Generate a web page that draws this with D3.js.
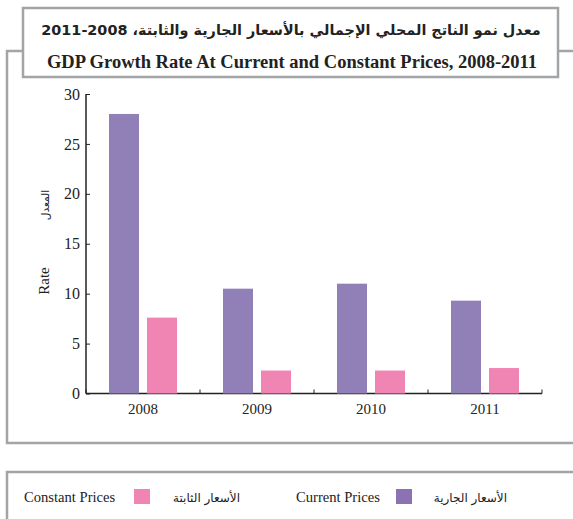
<!DOCTYPE html>
<meta charset="utf-8">
<style>
body { margin: 0; background: #fff; }
svg { display: block; }
.frame { fill: none; stroke: #a2a5a8; stroke-width: 2.5px; }
text { font-family: "Liberation Serif", "DejaVu Serif", serif; fill: #222; }
.ar { font-family: "DejaVu Sans", sans-serif; }
.axis path, .axis line { stroke: #222; }
.axis text { font-family: "Liberation Serif", serif; fill: #222; }
</style>
<svg width="573" height="519"></svg>
<script src="https://d3js.org/d3.v7.min.js"></script>
<script>

var years = ["2008", "2009", "2010", "2011"];
var currentPrices = [28.0, 10.5, 11.0, 9.3];
var constantPrices = [7.6, 2.3, 2.3, 2.55];
var yTicks = [0, 5, 10, 15, 20, 25, 30];

var purple = "#917fb7",
    pink = "#f085b4";

var svg = d3.select("svg");

// frames
svg.append("path").attr("class", "frame")
    .attr("d", "M23,51H7V443H573M558,51H573");
svg.append("path").attr("class", "frame")
    .attr("d", "M573,472H7V519");
svg.append("rect").attr("class", "frame")
    .attr("x", 23).attr("y", 8).attr("width", 535).attr("height", 69)
    .style("fill", "#fff");

svg.append("text")
    .attr("x", 291).attr("y", 35)
    .attr("text-anchor", "middle")
    .attr("direction", "rtl")
    .style("font-size", "14.4px").style("font-weight", "bold")
    .style("font-family", "'DejaVu Sans', sans-serif")
    .text("معدل نمو الناتج المحلي الإجمالي بالأسعار الجارية والثابتة، 2008-2011");

svg.append("text")
    .attr("x", 292).attr("y", 68)
    .attr("text-anchor", "middle")
    .style("font-size", "18.5px").style("font-weight", "bold")
    .text("GDP Growth Rate At Current and Constant Prices, 2008-2011");

// plot
var x = d3.scaleBand().domain(years).range([86, 542]);
var y = d3.scaleLinear().domain([0, 30]).range([393.5, 94]);

var gx = svg.append("g").attr("class", "axis")
    .attr("transform", "translate(0,393.5)")
    .call(d3.axisBottom(x).tickSize(0).tickPadding(10));
gx.selectAll(".tick line").remove();
gx.selectAll("text").style("font-size", "15px");
// boundary ticks between categories
gx.selectAll(".sep").data(x.domain().concat(["end"])).enter().append("line")
    .attr("x1", function(d, i) { return 86 + i * x.bandwidth(); })
    .attr("x2", function(d, i) { return 86 + i * x.bandwidth(); })
    .attr("y1", 0).attr("y2", -4)
    .attr("stroke", "#222");
gx.select(".domain").attr("d", "M86,0H542").attr("stroke-width", 1.5);

var gy = svg.append("g").attr("class", "axis")
    .attr("transform", "translate(86,0)")
    .call(d3.axisLeft(y).tickValues(yTicks).tickSize(-4).tickPadding(6));
gy.selectAll("text").style("font-size", "16px");
gy.select(".domain").attr("d", "M0,94V393.5").attr("stroke-width", 1.5);

var bw = 30, gap = 8;
function barX(d, i, off) { return x(years[i]) + x.bandwidth() / 2 - (bw * 2 + gap) / 2 + off; }

svg.append("g").selectAll("rect").data(currentPrices).enter().append("rect")
    .attr("x", function(d, i) { return barX(d, i, 0); })
    .attr("y", function(d) { return y(d); })
    .attr("width", bw)
    .attr("height", function(d) { return y(0) - y(d); })
    .attr("fill", purple);

svg.append("g").selectAll("rect").data(constantPrices).enter().append("rect")
    .attr("x", function(d, i) { return barX(d, i, bw + gap); })
    .attr("y", function(d) { return y(d); })
    .attr("width", bw)
    .attr("height", function(d) { return y(0) - y(d); })
    .attr("fill", pink);

svg.append("text")
    .attr("transform", "translate(49,281) rotate(-90)")
    .attr("text-anchor", "middle")
    .style("font-size", "15px")
    .text("Rate");
svg.append("text").attr("class", "ar")
    .attr("transform", "translate(49,205) rotate(-90)")
    .attr("text-anchor", "middle")
    .attr("direction", "rtl")
    .style("font-size", "10.5px")
    .text("المعدل");

// legend
var lg = svg.append("g");
lg.append("text").attr("x", 24).attr("y", 502).style("font-size", "14.6px").text("Constant Prices");
lg.append("rect").attr("x", 134).attr("y", 489).attr("width", 16).attr("height", 15).attr("fill", pink);
lg.append("text").attr("class", "ar").attr("x", 240).attr("y", 502).attr("text-anchor", "start")
    .attr("direction", "rtl").style("font-size", "12px").text("الأسعار الثابتة");
lg.append("text").attr("x", 296).attr("y", 502).style("font-size", "14.6px").text("Current Prices");
lg.append("rect").attr("x", 396).attr("y", 489).attr("width", 16).attr("height", 15).attr("fill", "#8a72b3");
lg.append("text").attr("class", "ar").attr("x", 507).attr("y", 502).attr("text-anchor", "start")
    .attr("direction", "rtl").style("font-size", "12px").text("الأسعار الجارية");

</script>
